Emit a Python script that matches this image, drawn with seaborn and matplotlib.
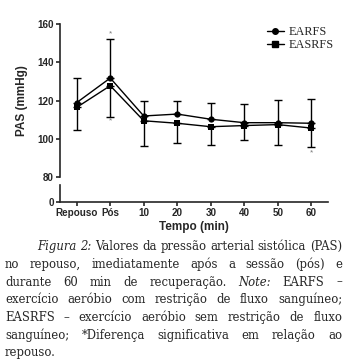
import numpy as np
import pandas as pd
import matplotlib
matplotlib.use('Agg')
import matplotlib.pyplot as plt
import seaborn as sns
from matplotlib.lines import Line2D

# dados
tempos = ['Repouso', 'Pós', '10', '20', '30', '40', '50', '60']
earfs = [119.0, 131.8, 112.0, 113.0, 110.3, 108.5, 108.5, 108.2]
earfs_sd = [12.8, 20.2, 8.0, 7.0, 8.3, 9.5, 11.9, 12.5]
easrfs = [116.5, 127.8, 109.5, 108.2, 106.4, 107.0, 107.5, 105.7]
easrfs_sd = [11.9, 16.2, 13.0, 10.5, 9.4, 7.6, 10.5, 9.7]
grupos = ['EARFS', 'EASRFS']
asteriscos = [(1, 155.0), (1, 109.5), (7, 92.5)]

caption = [
    [('Figura', 1), ('2:', 1), ('Valores', 0), ('da', 0), ('pressão', 0), ('arterial', 0), ('sistólica', 0), ('(PAS)', 0)],
    [('no', 0), ('repouso,', 0), ('imediatamente', 0), ('após', 0), ('a', 0), ('sessão', 0), ('(pós)', 0), ('e', 0)],
    [('durante', 0), ('60', 0), ('min', 0), ('de', 0), ('recuperação.', 0), ('Note:', 1), ('EARFS', 0), ('–', 0)],
    [('exercício', 0), ('aeróbio', 0), ('com', 0), ('restrição', 0), ('de', 0), ('fluxo', 0), ('sanguíneo;', 0)],
    [('EASRFS', 0), ('–', 0), ('exercício', 0), ('aeróbio', 0), ('sem', 0), ('restrição', 0), ('de', 0), ('fluxo', 0)],
    [('sanguíneo;', 0), ('*Diferença', 0), ('significativa', 0), ('em', 0), ('relação', 0), ('ao', 0)],
    [('repouso.', 0)],
]

x = np.arange(len(tempos))
df = pd.DataFrame({
    'x': np.concatenate([x, x]),
    'pas': earfs + easrfs,
    'grupo': [grupos[0]] * len(x) + [grupos[1]] * len(x),
})

sns.set_style('ticks')
plt.rcParams['font.family'] = ['Liberation Sans', 'DejaVu Sans']

W, H = 349, 363
fig = plt.figure(figsize=(W / 100, H / 100), dpi=100)

def fbox(l, t, r, b):
    return [l / W, 1 - b / H, (r - l) / W, (b - t) / H]

ax = fig.add_axes(fbox(60, 24, 328, 177.3))
ax2 = fig.add_axes(fbox(60, 185, 328, 201.7), sharex=ax)

sns.lineplot(data=df, x='x', y='pas', style='grupo', markers={'EARFS': 'o', 'EASRFS': 's'},
             dashes=False, color='black', lw=1.0, markersize=4.5, markeredgewidth=0,
             legend=False, ax=ax)
ax.errorbar(x, earfs, yerr=[np.zeros(len(x)), earfs_sd], fmt='none', ecolor='black',
            elinewidth=1.0, capsize=3, capthick=1.0)
ax.errorbar(x, easrfs, yerr=[easrfs_sd, np.zeros(len(x))], fmt='none', ecolor='black',
            elinewidth=1.0, capsize=3, capthick=1.0)
for xi, yi in asteriscos:
    ax.text(xi, yi, '*', ha='center', va='center', fontsize=6, color='#777777')

ax.set_xlim(-0.5, 7.5)
ax.set_ylim(80, 160)
ax.set_yticks([80, 100, 120, 140, 160])
ax.spines[['top', 'right', 'bottom']].set_visible(False)
ax.spines['left'].set_linewidth(1.2)
ax.tick_params(axis='x', bottom=False, labelbottom=False)
ax.tick_params(axis='y', length=3, width=1.2, pad=1.5, labelsize=7.1)
for t in ax.get_yticklabels():
    t.set_fontweight('bold')
ax.set_xlabel('')
ax.set_ylabel('PAS (mmHg)', fontsize=8.5, fontweight='bold', labelpad=7)

ax2.set_ylim(0, 5)
ax2.set_yticks([0])
ax2.spines[['top', 'right']].set_visible(False)
ax2.spines['left'].set_linewidth(1.2)
ax2.spines['bottom'].set_linewidth(1.2)
ax2.set_xticks(x)
ax2.set_xticklabels(tempos)
ax2.tick_params(axis='both', length=3, width=1.2, pad=1.5, labelsize=7.1)
for t in ax2.get_xticklabels() + ax2.get_yticklabels():
    t.set_fontweight('bold')
ax2.set_xlabel('Tempo (min)', fontsize=8.5, fontweight='bold', labelpad=2)

handles = [Line2D([], [], color='black', marker='o', lw=1.0, markersize=4),
           Line2D([], [], color='black', marker='s', lw=1.0, markersize=4.5)]
ax.legend(handles, grupos, loc='upper left', bbox_to_anchor=((262 - 60) / 268, 1.02),
          frameon=False, handlelength=1.4, handletextpad=0.4, labelspacing=0.1,
          borderaxespad=0, prop={'family': 'Liberation Serif', 'size': 8.8})

# legenda da figura, justificada palavra a palavra
fig.canvas.draw()
rend = fig.canvas.get_renderer()
left, right, indent = 5, 342, 36.7
cap_font = 'DejaVu Serif'
probe = fig.text(0, 0, ' '.join(w for w, _ in caption[0]), fontsize=10, family=cap_font)
cap_size = 10 * (right - indent) / probe.get_window_extent(rend).width
probe.remove()
for i, words in enumerate(caption):
    yb = 1 - (250.2 + 17.7 * i) / H
    texts = []
    for w, it in words:
        t = fig.text(0, yb, w, fontsize=cap_size, family=cap_font,
                     style='italic' if it else 'normal', va='baseline', ha='left')
        texts.append(t)
    widths = [t.get_window_extent(rend).width for t in texts]
    start = indent if i == 0 else left
    if i == len(caption) - 1:
        gap = 3.0
    else:
        gap = (right - start - sum(widths)) / max(len(words) - 1, 1)
    pos = start
    for t, wd in zip(texts, widths):
        t.set_x(pos / W)
        pos += wd + gap

fig.savefig('out.png', dpi=100)
